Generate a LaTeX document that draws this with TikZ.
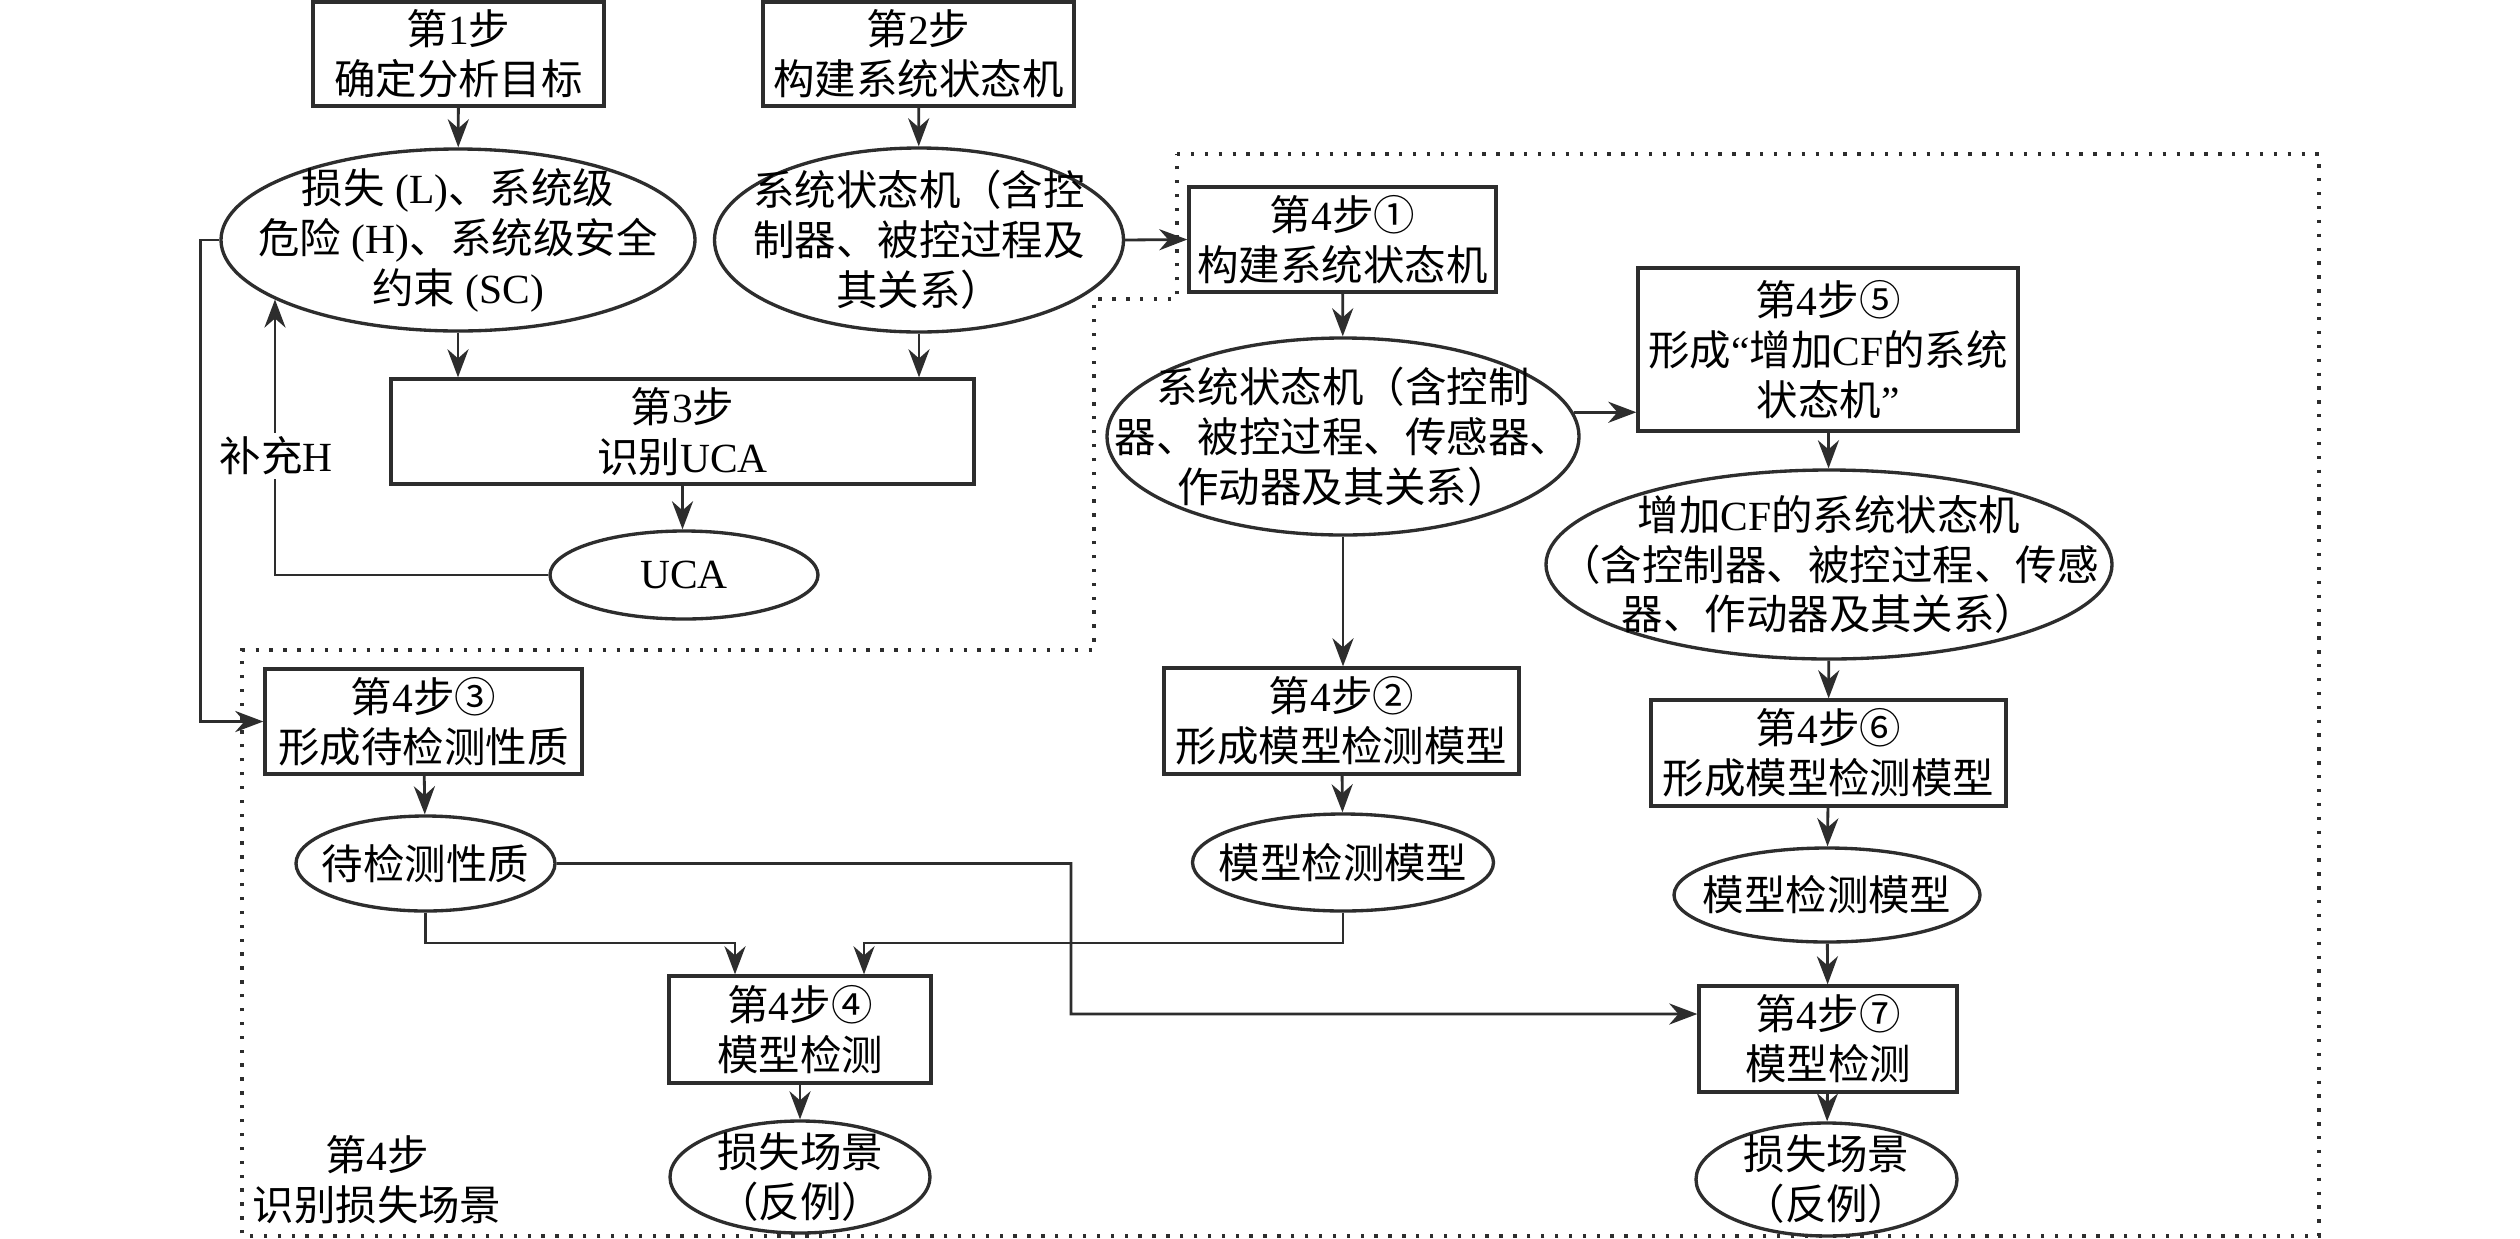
\documentclass[tikz,border=0pt]{standalone}
\usepackage{fontspec}
\setmainfont{Liberation Serif}
\newfontfamily\cjkfont{Noto Sans CJK SC}
\usetikzlibrary{shapes.geometric,arrows.meta,positioning}
\definecolor{linegray}{RGB}{45,45,45}
\newcommand{\lat}[1]{{\rmfamily #1}}

\begin{document}
\begin{tikzpicture}[
    font=\cjkfont\fontsize{11.8}{14.2}\selectfont,
    stepbox/.style={draw=linegray, line width=0.95pt, align=center, inner sep=0pt},
    oval/.style={draw=linegray, ellipse, line width=0.95pt, inner sep=0pt},
    txt/.style={align=center, inner sep=0pt},
    wire/.style={draw=linegray, line width=0.8pt},
    arr/.style={wire, -{Stealth[length=8pt,width=6pt]}},
    dotframe/.style={draw=linegray, line width=0.95pt, dash pattern=on 0.95pt off 3pt}
]
\path[use as bounding box, fill=white] (0,0) rectangle (25.2,-12.38);

% Step 4 region
\draw[dotframe] (11.77,-1.54) -- (23.19,-1.54) -- (23.19,-12.36) -- (2.42,-12.36)
    -- (2.42,-6.50) -- (10.94,-6.50) -- (10.94,-2.99) -- (11.77,-2.99) -- cycle;

% Steps 1-3
\node[stepbox, minimum width=2.91cm, minimum height=1.04cm] (s1) at (4.585,-0.54) {第\lat{1}步\\确定分析目标};
\node[stepbox, minimum width=3.11cm, minimum height=1.04cm] (s2) at (9.185,-0.54) {第\lat{2}步\\构建系统状态机};

\node[oval, minimum width=4.74cm, minimum height=1.82cm] (lossH) at (4.58,-2.40) {};
\node[txt] (lossHT) at (lossH) {损失\lat{ (L)}、系统级\\危险\lat{ (H)}、系统级安全\\约束\lat{ (SC)}};
\node[oval, minimum width=4.09cm, minimum height=1.84cm] (sysSM) at (9.19,-2.40) {};
\node[txt] (sysSMT) at (sysSM) {系统状态机（含控\\制器、被控过程及\\其关系）};

\node[stepbox, minimum width=5.83cm, minimum height=1.05cm] (s3) at (6.825,-4.315) {第\lat{3}步\\识别\lat{UCA}};
\node[oval, minimum width=2.68cm, minimum height=0.88cm] (uca) at (6.84,-5.75) {};
\node[txt] (ucaT) at (uca) {\lat{UCA}};

% Step 4, path with state machine
\node[stepbox, minimum width=3.07cm, minimum height=1.05cm] (s41) at (13.425,-2.395) {第\lat{4}步①\\构建系统状态机};
\node[oval, minimum width=4.72cm, minimum height=1.97cm] (sm41) at (13.43,-4.365) {};
\node[txt] (sm41T) at (sm41) {系统状态机（含控制\\器、被控过程、传感器、\\作动器及其关系）};
\node[stepbox, minimum width=3.55cm, minimum height=1.06cm] (s42) at (13.415,-7.21) {第\lat{4}步②\\形成模型检测模型};
\node[oval, minimum width=3.01cm, minimum height=0.97cm] (mcm42) at (13.43,-8.625) {};
\node[txt] (mcm42T) at (mcm42) {模型检测模型};

% Step 4, path with CF
\node[stepbox, minimum width=3.80cm, minimum height=1.63cm] (s45) at (18.28,-3.495) {第\lat{4}步⑤\\形成\lat{“}增加\lat{CF}的系统\\状态机\lat{”}};
\node[oval, minimum width=5.66cm, minimum height=1.89cm] (smCF) at (18.29,-5.645) {};
\node[txt] (smCFT) at (smCF) {增加\lat{CF}的系统状态机\\（含控制器、被控过程、传感\\器、作动器及其关系）};
\node[stepbox, minimum width=3.55cm, minimum height=1.06cm] (s46) at (18.285,-7.53) {第\lat{4}步⑥\\形成模型检测模型};
\node[oval, minimum width=3.06cm, minimum height=0.94cm] (mcm46) at (18.27,-8.95) {};
\node[txt] (mcm46T) at (mcm46) {模型检测模型};
\node[stepbox, minimum width=2.58cm, minimum height=1.06cm] (s47) at (18.28,-10.39) {第\lat{4}步⑦\\模型检测};
\node[oval, minimum width=2.61cm, minimum height=1.13cm] (scen47) at (18.265,-11.795) {};
\node[txt] (scen47T) at (scen47) {损失场景\\（反例）};

% Step 4, properties
\node[stepbox, minimum width=3.17cm, minimum height=1.05cm] (s43) at (4.235,-7.215) {第\lat{4}步③\\形成待检测性质};
\node[oval, minimum width=2.59cm, minimum height=0.95cm] (prop) at (4.255,-8.635) {};
\node[txt] (propT) at (prop) {待检测性质};
\node[stepbox, minimum width=2.62cm, minimum height=1.07cm] (s44) at (8.00,-10.295) {第\lat{4}步④\\模型检测};
\node[oval, minimum width=2.60cm, minimum height=1.12cm] (scen44) at (8.00,-11.77) {};
\node[txt] (scen44T) at (scen44) {损失场景\\（反例）};
\node[txt] (step4) at (3.77,-11.80) {第\lat{4}步\\识别损失场景};

% Arrows
\draw[arr] (s1) -- (lossH);
\draw[arr] (s2) -- (sysSM);
\draw[arr] (lossH.south) -- (lossH.south |- s3.north);
\draw[arr] (sysSM.south) -- (sysSM.south |- s3.north);
\draw[arr] (s3.south) -- (s3.south |- uca.north);
\draw[arr] (uca.west) -| (lossH.198.66);
\draw[arr] (lossH.west) -- ++(-0.19,0) |- (s43.west);
\draw[arr] (sysSM.east) -- (s41.west);

\draw[arr] (s41) -- (sm41);
\draw[arr] (sm41.6.5) -- (sm41.6.5 -| s45.west);
\draw[arr] (sm41.south) -- (sm41.south |- s42.north);
\draw[arr] (s42) -- (mcm42);
\draw[arr] (s45) -- (smCF);
\draw[arr] (smCF) -- (s46);
\draw[arr] (s46) -- (mcm46);
\draw[arr] (mcm46) -- (s47);
\draw[arr] (s47) -- (scen47);

\draw[arr] (s43) -- (prop);
\draw[arr] (prop.south) |- (7.35,-9.43) -- (7.35,0 |- s44.north);
\draw[arr] (mcm42.south) |- (8.64,-9.43) -- (8.64,0 |- s44.north);
\draw[arr] (prop.east) -| (10.71,-10.14) -- ([yshift=0.25cm]s47.west);
\draw[arr] (s44) -- (scen44);

% Feedback label
\node[txt, fill=white, inner sep=1pt] (addH) at (2.76,-4.56) {补充\lat{H}};
\end{tikzpicture}
\end{document}
